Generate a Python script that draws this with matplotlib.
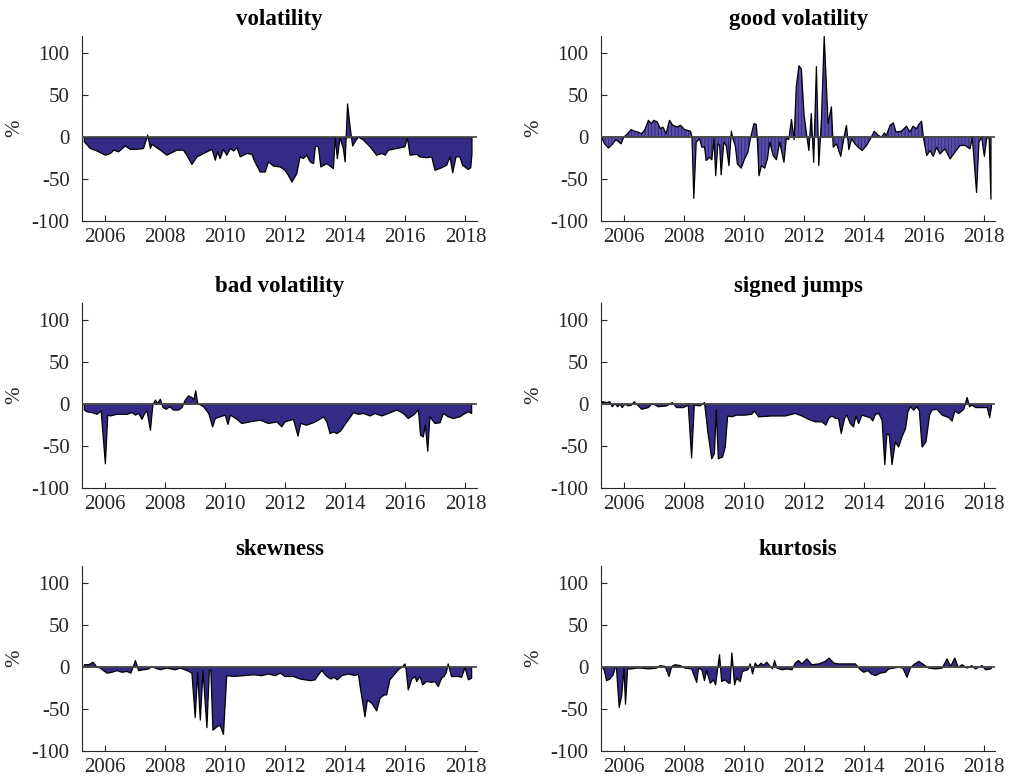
import matplotlib
matplotlib.use('Agg')
import matplotlib.pyplot as plt
import numpy as np

plt.rcParams['font.family'] = ['Liberation Serif', 'DejaVu Serif']
plt.rcParams['hatch.linewidth'] = 0.6

# dates in decimal years, values in %
vol_t = [2005.30, 2005.50, 2005.72, 2006.00, 2006.17, 2006.28, 2006.44, 2006.66, 2006.83, 2007.05,
         2007.27, 2007.41, 2007.50, 2007.55, 2007.83, 2008.05, 2008.38, 2008.60, 2008.71, 2008.88,
         2009.05, 2009.38, 2009.55, 2009.66, 2009.73, 2009.82, 2009.93, 2010.04, 2010.16, 2010.27,
         2010.38, 2010.49, 2010.71, 2010.88, 2010.95, 2011.15, 2011.32, 2011.43, 2011.60, 2011.82,
         2011.98, 2012.09, 2012.21, 2012.37, 2012.48, 2012.59, 2012.70, 2012.82, 2012.93, 2012.99,
         2013.09, 2013.17, 2013.37, 2013.59, 2013.65, 2013.72, 2013.81, 2013.92, 2013.98, 2014.06,
         2014.15, 2014.23, 2014.31, 2014.42, 2014.59, 2014.81, 2015.03, 2015.20, 2015.31, 2015.42,
         2015.70, 2015.97, 2016.05, 2016.14, 2016.36, 2016.47, 2016.69, 2016.86, 2016.97, 2017.19,
         2017.36, 2017.47, 2017.56, 2017.67, 2017.80, 2017.89, 2018.08, 2018.16, 2018.20]
vol_v = [-5, -13, -16, -21, -19, -15, -17, -10, -14, -14,
         -13, 3, -13, -8, -15, -21, -15, -15, -21, -32,
         -23, -17, -14, -27, -17, -25, -14, -21, -13, -16,
         -12, -23, -19, -20, -27, -41, -41, -29, -34, -35,
         -39, -45, -53, -43, -23, -25, -21, -29, -31, -10,
         -11, -35, -31, -37, 0, -25, 0, -13, -29, 40,
         11, -10, -5, 1, -3, -11, -21, -19, -21, -15,
         -13, -11, 0, -21, -20, -23, -24, -23, -39, -36,
         -33, -23, -42, -23, -23, -33, -38, -36, -20]

good_t = [2005.27, 2005.36, 2005.49, 2005.63, 2005.74, 2005.91, 2006.00, 2006.13, 2006.24, 2006.36,
          2006.47, 2006.58, 2006.69, 2006.82, 2006.91, 2007.00, 2007.11, 2007.22, 2007.30, 2007.41,
          2007.52, 2007.63, 2007.78, 2007.89, 2008.02, 2008.22, 2008.27, 2008.33, 2008.41, 2008.52,
          2008.60, 2008.69, 2008.74, 2008.86, 2008.93, 2009.00, 2009.06, 2009.13, 2009.19, 2009.24,
          2009.33, 2009.41, 2009.50, 2009.58, 2009.63, 2009.71, 2009.78, 2009.91, 2010.02, 2010.13,
          2010.22, 2010.33, 2010.41, 2010.44, 2010.50, 2010.58, 2010.69, 2010.78, 2010.86, 2010.97,
          2011.08, 2011.19, 2011.33, 2011.41, 2011.49, 2011.58, 2011.67, 2011.74, 2011.83, 2011.91,
          2012.00, 2012.08, 2012.16, 2012.24, 2012.32, 2012.41, 2012.49, 2012.58, 2012.67, 2012.80,
          2012.91, 2012.97, 2013.08, 2013.22, 2013.33, 2013.41, 2013.49, 2013.58, 2013.69, 2013.80,
          2013.93, 2014.08, 2014.24, 2014.33, 2014.47, 2014.58, 2014.67, 2014.74, 2014.86, 2014.97,
          2015.06, 2015.24, 2015.41, 2015.52, 2015.63, 2015.74, 2015.82, 2015.91, 2015.97, 2016.08,
          2016.19, 2016.30, 2016.41, 2016.52, 2016.69, 2016.86, 2017.02, 2017.19, 2017.36, 2017.52,
          2017.60, 2017.74, 2017.82, 2017.91, 2018.00, 2018.08, 2018.16, 2018.22]
good_v = [-1, -8, -13, -8, -3, -8, 0, 4, 9, 7,
          6, 4, 8, 20, 16, 20, 18, 10, 12, 4,
          20, 14, 12, 14, 9, 7, 0, -73, -6, -2,
          -12, -12, -28, -24, -27, -2, -46, -8, -10, -45,
          -6, -10, -34, 7, -2, -10, -32, -37, -26, -18,
          -1, 16, 15, 0, -46, -34, -37, -26, -6, -22,
          -27, -6, -30, -1, -3, 21, -3, 60, 85, 81,
          26, 4, -16, 28, -30, 84, -34, 22, 120, 16,
          36, -12, -8, -23, 0, 14, -15, -2, -8, -12,
          -16, -10, 0, 7, 2, 0, 5, 2, 14, 17,
          6, 7, 13, 6, 13, 10, 15, 19, 0, -22,
          -16, -23, -12, -20, -14, -26, -18, -10, -10, -14,
          -1, -66, -6, 0, -23, -1, -1, -74]

bad_t = [2005.30, 2005.39, 2005.56, 2005.72, 2005.86, 2006.00, 2006.08, 2006.17, 2006.39, 2006.72,
         2006.89, 2007.00, 2007.11, 2007.22, 2007.31, 2007.39, 2007.50, 2007.58, 2007.66, 2007.74,
         2007.83, 2007.92, 2008.03, 2008.14, 2008.27, 2008.44, 2008.55, 2008.66, 2008.77, 2008.88,
         2008.94, 2009.01, 2009.07, 2009.27, 2009.44, 2009.57, 2009.66, 2009.82, 2009.99, 2010.08,
         2010.16, 2010.38, 2010.54, 2010.82, 2011.15, 2011.43, 2011.71, 2011.87, 2011.98, 2012.26,
         2012.41, 2012.50, 2012.70, 2012.93, 2013.09, 2013.26, 2013.37, 2013.48, 2013.59, 2013.70,
         2013.83, 2013.98, 2014.12, 2014.26, 2014.42, 2014.59, 2014.81, 2014.98, 2015.20, 2015.42,
         2015.70, 2015.92, 2016.08, 2016.25, 2016.42, 2016.49, 2016.58, 2016.65, 2016.73, 2016.80,
         2016.97, 2017.14, 2017.25, 2017.41, 2017.58, 2017.80, 2017.97, 2018.08, 2018.19]
bad_v = [-7, -9, -10, -12, -8, -71, -13, -14, -12, -12,
         -10, -13, -11, -18, -11, -8, -31, -1, 5, 1,
         6, -4, -6, -3, -7, -7, -4, 5, 10, 8,
         5, 16, 1, -3, -11, -27, -17, -15, -13, -24,
         -13, -18, -23, -21, -19, -23, -21, -27, -21, -18,
         -38, -23, -25, -22, -19, -15, -21, -35, -33, -35,
         -32, -24, -17, -10, -12, -11, -14, -11, -14, -11,
         -7, -11, -17, -13, -7, -37, -39, -25, -56, -15,
         -23, -22, -11, -15, -17, -15, -11, -9, -11]

jump_t = [2005.27, 2005.41, 2005.52, 2005.60, 2005.69, 2005.78, 2005.86, 2005.93, 2006.02, 2006.13,
          2006.24, 2006.33, 2006.47, 2006.58, 2006.80, 2006.93, 2007.13, 2007.41, 2007.60, 2007.74,
          2007.97, 2008.13, 2008.24, 2008.33, 2008.52, 2008.67, 2008.78, 2008.91, 2009.00, 2009.06,
          2009.13, 2009.27, 2009.36, 2009.44, 2009.58, 2009.74, 2010.02, 2010.24, 2010.33, 2010.47,
          2010.91, 2011.36, 2011.69, 2011.91, 2012.13, 2012.36, 2012.58, 2012.71, 2012.80, 2012.91,
          2013.04, 2013.13, 2013.22, 2013.33, 2013.41, 2013.52, 2013.63, 2013.71, 2013.80, 2013.91,
          2014.08, 2014.19, 2014.27, 2014.36, 2014.47, 2014.58, 2014.67, 2014.74, 2014.82, 2014.91,
          2015.02, 2015.13, 2015.24, 2015.36, 2015.44, 2015.52, 2015.63, 2015.74, 2015.82, 2015.91,
          2016.04, 2016.16, 2016.24, 2016.41, 2016.58, 2016.80, 2016.91, 2017.00, 2017.13, 2017.30,
          2017.41, 2017.49, 2017.58, 2017.69, 2017.91, 2018.08, 2018.16, 2018.22]
jump_v = [3, 2, 3, -3, 1, -3, 0, -4, 0, -2,
          -1, 3, -2, -6, -4, 1, -3, -2, 2, -4,
          -4, -1, -64, -1, -2, 2, -33, -65, -59, -7,
          -65, -63, -51, -14, -15, -13, -13, -12, -8, -15,
          -14, -14, -11, -14, -18, -21, -21, -25, -17, -14,
          -17, -17, -35, -17, -13, -23, -27, -14, -23, -13,
          -15, -16, -20, -12, -11, -19, -72, -35, -37, -72,
          -45, -51, -39, -29, -9, -3, -7, -3, -8, -51,
          -45, -13, -7, -6, -13, -16, -20, -8, -11, -6,
          8, -3, -1, -4, -4, -4, -16, -3]

skew_t = [2005.30, 2005.45, 2005.59, 2005.70, 2005.83, 2005.94, 2006.06, 2006.22, 2006.39, 2006.55,
          2006.72, 2006.85, 2007.00, 2007.11, 2007.27, 2007.44, 2007.55, 2007.66, 2007.83, 2008.05,
          2008.33, 2008.49, 2008.72, 2008.88, 2008.99, 2009.07, 2009.16, 2009.25, 2009.38, 2009.46,
          2009.51, 2009.58, 2009.71, 2009.82, 2009.93, 2010.04, 2010.27, 2010.60, 2010.93, 2011.21,
          2011.43, 2011.65, 2011.82, 2011.98, 2012.26, 2012.48, 2012.82, 2012.98, 2013.09, 2013.20,
          2013.37, 2013.50, 2013.61, 2013.72, 2013.87, 2014.09, 2014.31, 2014.42, 2014.48, 2014.64,
          2014.72, 2014.87, 2015.03, 2015.14, 2015.28, 2015.36, 2015.47, 2015.61, 2015.75, 2015.90,
          2015.97, 2016.01, 2016.08, 2016.20, 2016.31, 2016.36, 2016.47, 2016.56, 2016.69, 2016.86,
          2016.97, 2017.08, 2017.19, 2017.27, 2017.34, 2017.41, 2017.52, 2017.75, 2017.86, 2017.97,
          2018.08, 2018.19]
skew_v = [3, 3, 6, 1, -1, -4, -7, -6, -4, -6,
          -5, -7, 8, -4, -3, -2, 1, -1, -3, -1,
          -3, -1, -4, -7, -60, -6, -63, -4, -72, -4,
          -3, -75, -71, -69, -80, -10, -11, -10, -9, -10,
          -8, -10, -7, -11, -11, -14, -16, -15, -9, -4,
          -11, -14, -12, -15, -10, -8, -10, -8, -23, -59,
          -39, -43, -52, -37, -33, -33, -15, -9, -3, 1,
          4, -3, -27, -14, -11, -17, -11, -21, -17, -18,
          -17, -23, -13, -11, -7, 4, -11, -11, -12, 0,
          -15, -13]

kurt_t = [2005.27, 2005.33, 2005.41, 2005.52, 2005.63, 2005.69, 2005.74, 2005.83, 2005.91, 2005.99,
          2006.04, 2006.11, 2006.24, 2006.41, 2006.58, 2006.80, 2007.08, 2007.19, 2007.36, 2007.49,
          2007.58, 2007.69, 2007.86, 2008.02, 2008.24, 2008.41, 2008.47, 2008.58, 2008.67, 2008.74,
          2008.86, 2008.97, 2009.04, 2009.11, 2009.17, 2009.24, 2009.36, 2009.47, 2009.52, 2009.58,
          2009.67, 2009.74, 2009.86, 2009.93, 2010.02, 2010.11, 2010.19, 2010.27, 2010.36, 2010.44,
          2010.56, 2010.63, 2010.74, 2010.86, 2010.93, 2011.00, 2011.08, 2011.24, 2011.41, 2011.58,
          2011.69, 2011.80, 2011.91, 2012.08, 2012.24, 2012.47, 2012.69, 2012.82, 2012.97, 2013.13,
          2013.36, 2013.69, 2013.86, 2013.97, 2014.11, 2014.22, 2014.36, 2014.52, 2014.69, 2014.80,
          2014.97, 2015.13, 2015.27, 2015.41, 2015.52, 2015.63, 2015.80, 2015.97, 2016.13, 2016.36,
          2016.58, 2016.74, 2016.86, 2017.00, 2017.11, 2017.24, 2017.41, 2017.56, 2017.69, 2017.91,
          2018.02, 2018.19, 2018.24]
kurt_v = [0, -3, -16, -14, -9, -1, -1, -48, -35, -1,
          -44, -2, -2, -1, -1, -2, -1, 2, 1, -11,
          1, 3, 2, -1, -2, -18, -1, -3, -16, -4,
          -19, -15, -21, -1, 15, -17, -15, -19, -19, 17,
          -21, -13, -17, -5, -4, -3, 4, -8, 5, 1,
          5, 2, 6, 1, -2, 8, -1, -3, -2, -3,
          5, 8, 4, 10, 3, 4, 7, 11, 5, 4,
          4, 4, -3, -6, -4, -8, -10, -7, -6, -2,
          -1, 0, -1, -12, -1, 3, 7, 3, -1, -2,
          -1, 10, 1, 11, 0, 3, -1, 2, -2, 2,
          -3, -2, 0]

titles = ['volatility', 'good volatility', 'bad volatility',
          'signed jumps', 'skewness', 'kurtosis']
series = [(vol_t, vol_v), (good_t, good_v), (bad_t, bad_v),
          (jump_t, jump_v), (skew_t, skew_v), (kurt_t, kurt_v)]
year_ticks = [2006, 2008, 2010, 2012, 2014, 2016, 2018]

fill_col = '#342b87'

fig = plt.figure(figsize=(10.09, 7.84), dpi=100)
lefts = [0.0813, 0.5956]
bottoms = [0.7181, 0.378, 0.0425]

for i, (title, (t, v)) in enumerate(zip(titles, series)):
    row, col = divmod(i, 2)
    ax = fig.add_axes([lefts[col], bottoms[row], 0.391, 0.2355])
    t = np.array(t)
    v = np.array(v, dtype=float)
    if title == 'good volatility':
        ax.fill_between(t, v, 0, facecolor='#5a50aa', edgecolor='#2a2375',
                        hatch='|||||', linewidth=0)
        ax.fill_between(t, v, 0, facecolor='none', edgecolor='black', linewidth=0.9)
    else:
        ax.fill_between(t, v, 0, facecolor=fill_col, edgecolor='black', linewidth=0.9)
    ax.axhline(0, color='#4d4d4d', lw=1.3, zorder=3)

    ax.set_xlim(2005.24, 2018.37)
    ax.set_ylim(-100, 120)
    ax.set_xticks(year_ticks)
    ax.set_yticks([-100, -50, 0, 50, 100])
    ax.set_yticklabels(['-100', '-50', '0', '50', '100'])
    ax.spines['top'].set_visible(False)
    ax.spines['right'].set_visible(False)
    for s in ['left', 'bottom']:
        ax.spines[s].set_color('#262626')
        ax.spines[s].set_linewidth(0.8)
    ax.tick_params(axis='x', direction='in', length=4, width=0.8, pad=5,
                   labelsize=15, colors='#262626')
    ax.tick_params(axis='y', direction='in', length=4, width=0.8, pad=9,
                   labelsize=15, colors='#262626')
    ax.set_title(title, fontsize=16.5, fontweight='bold', pad=8)
    ax.set_ylabel('%', fontsize=15, color='#262626')
    ax.yaxis.set_label_coords(-0.147, 0.5)

fig.savefig('out.png', dpi=100)
